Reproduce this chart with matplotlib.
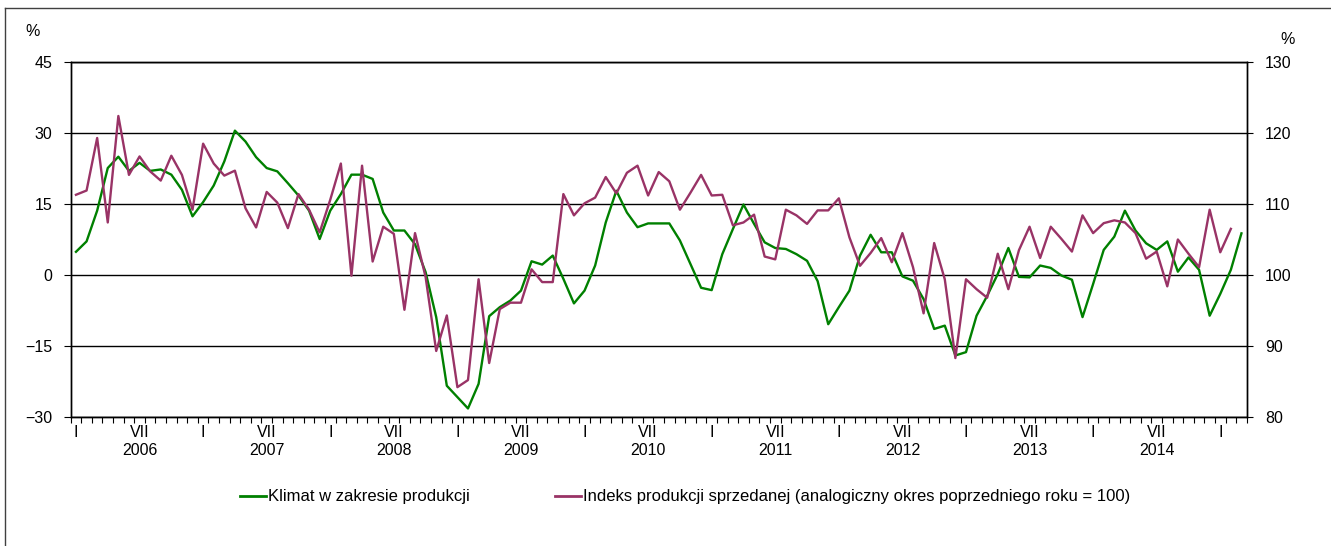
import matplotlib
matplotlib.use("Agg")
import matplotlib.pyplot as plt
from matplotlib.lines import Line2D

plt.rcParams["font.family"] = ["Liberation Sans", "DejaVu Sans"]

# monthly data, Jan 2006 .. Mar 2015
klimat = [
    4.9, 7.1, 13.6, 22.6, 25.0, 22.0, 23.7, 22.0, 22.3, 21.2, 18.0, 12.4,
    15.4, 18.9, 24.0, 30.5, 28.2, 24.9, 22.6, 21.9, 19.4, 16.8, 13.6, 7.6,
    13.6, 17.1, 21.2, 21.2, 20.3, 13.2, 9.4, 9.4, 6.5, 0.6, -8.9, -23.4,
    -25.8, -28.2, -23.0, -8.7, -6.8, -5.4, -3.3, 2.9, 2.2, 4.1, -0.8, -6.0,
    -3.3, 2.0, 11.1, 17.8, 13.2, 10.1, 10.9, 10.9, 10.9, 7.3, 2.3, -2.7,
    -3.2, 4.4, 9.7, 14.9, 10.8, 6.9, 5.7, 5.5, 4.4, 3.0, -1.3, -10.4,
    -6.8, -3.3, 4.1, 8.5, 4.8, 4.8, -0.3, -1.2, -5.1, -11.4, -10.7, -17.0,
    -16.3, -8.6, -4.4, 0.2, 5.7, -0.4, -0.5, 2.0, 1.5, -0.1, -1.0, -8.9,
    -1.9, 5.3, 8.1, 13.6, 9.4, 6.7, 5.3, 7.1, 0.7, 3.7, 1.1, -8.6,
    -4.0, 1.1, 8.8,
]

# monthly data, Jan 2006 .. Feb 2015
indeks = [
    111.3, 111.9, 119.3, 107.4, 122.4, 114.1, 116.7, 114.6, 113.3, 116.8, 114.1, 109.2,
    118.5, 115.7, 114.0, 114.7, 109.4, 106.7, 111.7, 110.2, 106.6, 111.4, 109.2, 106.0,
    110.6, 115.7, 99.9, 115.4, 101.9, 106.8, 105.8, 95.1, 105.9, 99.7, 89.3, 94.3,
    84.2, 85.2, 99.4, 87.6, 95.2, 96.1, 96.1, 100.8, 99.0, 99.0, 111.4, 108.4,
    110.1, 110.9, 113.8, 111.5, 114.4, 115.4, 111.2, 114.5, 113.2, 109.2, 111.6, 114.1,
    111.2, 111.3, 107.0, 107.4, 108.5, 102.6, 102.2, 109.2, 108.4, 107.2, 109.1, 109.1,
    110.8, 105.3, 101.3, 103.1, 105.2, 101.8, 105.9, 101.1, 94.6, 104.5, 99.4, 88.3,
    99.4, 98.0, 96.8, 103.0, 98.0, 103.5, 106.8, 102.4, 106.8, 105.1, 103.3, 108.4,
    105.9, 107.3, 107.7, 107.4, 105.9, 102.3, 103.3, 98.4, 105.0, 103.0, 101.1, 109.2,
    103.2, 106.5,
]

years = [2006, 2007, 2008, 2009, 2010, 2011, 2012, 2013, 2014]
left_ticks = [-30, -15, 0, 15, 30, 45]
right_ticks = [80, 90, 100, 110, 120, 130]

GREEN = "#008000"
PURPLE = "#993366"

fig = plt.figure(figsize=(13.31, 5.46), dpi=100)
ax = fig.add_axes([0.0531, 0.2363, 0.8836, 0.6501])
ax2 = ax.twinx()

n = len(klimat)
ax.plot(range(n), klimat, color=GREEN, lw=1.7, zorder=3)
ax2.plot(range(len(indeks)), indeks, color=PURPLE, lw=1.7, zorder=3)

ax.set_xlim(-0.5, n - 0.5)
ax.set_ylim(-30, 45)
ax2.set_ylim(80, 130)
ax.set_yticks(left_ticks)
ax2.set_yticks(right_ticks)

for y in left_ticks:
    ax.axhline(y, color="black", lw=1.0, zorder=1)

# month labels: I and VII, year under VII
pos, labs = [], []
for k, yr in enumerate(years):
    pos += [12 * k, 12 * k + 6]
    labs += ["I", f"VII\n{yr}"]
pos.append(12 * len(years))
labs.append("I")
ax.set_xticks(pos)
ax.set_xticklabels(labs, fontsize=11.5, linespacing=1.2)
ax.set_xticks([i - 0.5 for i in range(n + 1)], minor=True)
ax.tick_params(axis="x", which="major", length=0, pad=6)
ax.tick_params(axis="x", which="minor", length=4, width=0.8, direction="out")

ax.tick_params(axis="y", labelsize=11.5, length=5, width=0.8, pad=8)
ax2.tick_params(axis="y", labelsize=11.5, length=4, width=0.8, pad=9)

for a in (ax, ax2):
    for s in a.spines.values():
        s.set_color("black")
        s.set_linewidth(1.0)

fig.text(33 / 1331, 1 - 31 / 546, "%", fontsize=11.5, ha="center", va="center")
fig.text(1288 / 1331, 1 - 39 / 546, "%", fontsize=11.5, ha="center", va="center")

# frame round the chart
fig.add_artist(Line2D([5 / 1331, 5 / 1331], [0, 1 - 8 / 546], color="#404040", lw=1.0))
fig.add_artist(Line2D([5 / 1331, 1], [1 - 8 / 546, 1 - 8 / 546], color="#404040", lw=1.0))

handles = [
    Line2D([], [], color=GREEN, lw=2),
    Line2D([], [], color=PURPLE, lw=2),
]
fig.legend(
    handles,
    ["Klimat w zakresie produkcji",
     "Indeks produkcji sprzedanej (analogiczny okres poprzedniego roku = 100)"],
    loc="center", bbox_to_anchor=(685 / 1331, 1 - 497 / 546), ncol=2, frameon=False,
    fontsize=12, handlelength=1.6, handletextpad=0.1, columnspacing=5.1,
)

fig.savefig("out.png", dpi=100)
